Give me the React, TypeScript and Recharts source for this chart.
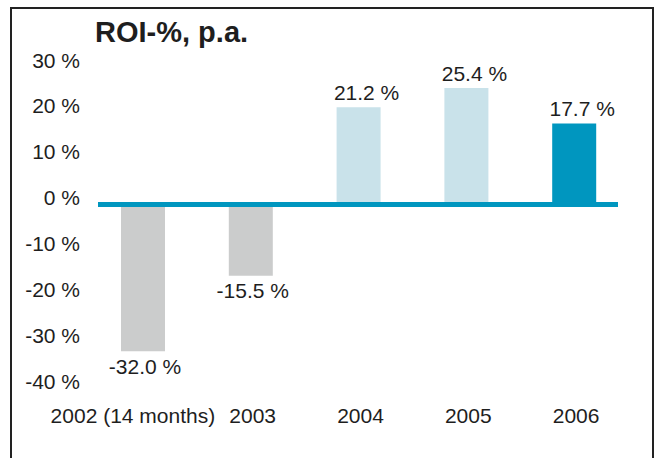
import { Bar, BarChart, Cell, LabelList, ReferenceLine, XAxis, YAxis } from "recharts"

const years = ["2002 (14 months)", "2003", "2004", "2005", "2006"]
const roi = [-32.0, -15.5, 21.2, 25.4, 17.7]
const yTicks = [-40, -30, -20, -10, 0, 10, 20, 30]

const barColors = ["#cbcccc", "#cbcccc", "#c9e2ea", "#c9e2ea", "#0096bf"]
const teal = "#0096bf"
const ink = "#1e1e1e"
const font = "'Liberation Sans', Arial, Helvetica, sans-serif"
const fs = 21

const data = years.map((year, i) => ({ year, roi: roi[i] }))

const YTick = ({ x, y, payload }: any) => (
  <text
    x={x}
    y={Number(y) - 7}
    textAnchor="end"
    dominantBaseline="central"
    fontSize={fs}
    fontFamily={font}
    fill={ink}
  >
    {`${payload.value} %`}
  </text>
)

const XTick = ({ x, y, payload, index }: any) => (
  <text
    x={Number(x) + (index === 0 ? -10 : 2)}
    y={Number(y) + 27}
    textAnchor="middle"
    dominantBaseline="central"
    fontSize={fs}
    fontFamily={font}
    fill={ink}
  >
    {payload.value}
  </text>
)

const ValueLabel = (props: any) => {
  const x = Number(props.x)
  const y = Number(props.y)
  const w = Number(props.width)
  const h = Number(props.height)
  const v = Number(props.value)
  const top = Math.min(y, y + h)
  const bottom = Math.max(y, y + h)
  const pos = v >= 0
  return (
    <text
      x={x + w / 2 + (pos ? 8 : 2)}
      y={pos ? top - 15 : bottom + 15}
      textAnchor="middle"
      dominantBaseline="central"
      fontSize={fs}
      fontFamily={font}
      fill={ink}
    >
      {`${v.toFixed(1)} %`}
    </text>
  )
}

const ZeroLine = (p: any) => (
  <line
    x1={Number(p.x1) + 9}
    x2={Number(p.x2) - 10}
    y1={p.y1}
    y2={p.y2}
    stroke={teal}
    strokeWidth={5}
  />
)

export default function App() {
  return (
    <div
      style={{
        position: "absolute",
        left: 0,
        top: 0,
        width: 655,
        height: 458,
        overflow: "hidden",
        background: "#fff",
      }}
    >
      <div
        style={{
          position: "absolute",
          left: 10,
          top: 7,
          width: 644,
          height: 520,
          boxSizing: "border-box",
          border: "2px solid #222",
          borderBottom: "none",
        }}
      />
      <div
        style={{
          position: "absolute",
          left: 95,
          top: 18,
          fontFamily: font,
          fontWeight: "bold",
          fontSize: 29,
          lineHeight: 1,
          color: ink,
          whiteSpace: "nowrap",
        }}
      >
        ROI-%, p.a.
      </div>
      <div style={{ position: "absolute", left: 0, top: 0 }}>
        <BarChart
          width={655}
          height={458}
          data={data}
          margin={{ top: 67, right: 27, left: 0, bottom: 30 }}
        >
          <XAxis
            dataKey="year"
            axisLine={false}
            tickLine={false}
            tickSize={0}
            tickMargin={0}
            height={40}
            interval={0}
            tick={<XTick />}
          />
          <YAxis
            domain={[-40, 30]}
            ticks={yTicks}
            axisLine={false}
            tickLine={false}
            tickSize={0}
            tickMargin={9}
            width={89}
            interval={0}
            tick={<YTick />}
          />
          <Bar dataKey="roi" barSize={44} isAnimationActive={false}>
            {data.map((d, i) => (
              <Cell key={d.year} fill={barColors[i]} />
            ))}
            <LabelList dataKey="roi" content={<ValueLabel />} />
          </Bar>
          <ReferenceLine y={0} stroke={teal} strokeWidth={5} shape={ZeroLine} />
        </BarChart>
      </div>
    </div>
  )
}
